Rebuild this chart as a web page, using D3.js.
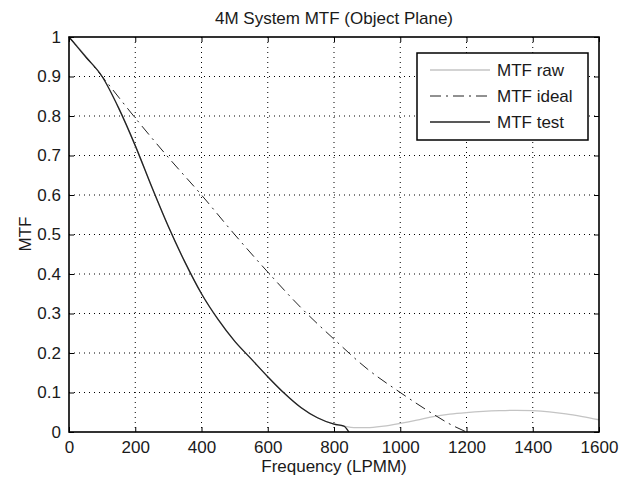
<!DOCTYPE html>
<html><head><meta charset="utf-8">
<script src="https://cdn.jsdelivr.net/npm/d3@7"></script>
<style>body{margin:0;background:#fff}text{font-family:"Liberation Sans",Arial,Helvetica,sans-serif;fill:#1a1a1a}</style>
</head><body><svg id="c" width="621" height="483"></svg>
<script>
const titleText = "4M System MTF (Object Plane)";
const xLabel = "Frequency (LPMM)";
const yLabel = "MTF";
const xTicks = [0,200,400,600,800,1000,1200,1400,1600];
const yTicks = [0,0.1,0.2,0.3,0.4,0.5,0.6,0.7,0.8,0.9,1];
const seriesNames = ["MTF raw","MTF ideal","MTF test"];

const rawFreq = [0,30,60,100,150,200,250,300,350,400,450,500,550,600,650,700,750,800,830,860,900,950,1000,1050,1100,1150,1200,1250,1300,1350,1400,1450,1500,1550,1600];
const rawMTF  = [1,0.972,0.942,0.9,0.82,0.725,0.62,0.52,0.43,0.35,0.285,0.23,0.185,0.14,0.098,0.062,0.036,0.02,0.015,0.011,0.011,0.015,0.022,0.03,0.039,0.045,0.049,0.052,0.054,0.055,0.054,0.051,0.046,0.039,0.031];

const idealFreq = [0,100,200,300,400,500,600,700,800,900,1000,1100,1150,1200];
const idealMTF  = [1,0.9,0.795,0.695,0.6,0.5,0.405,0.315,0.235,0.16,0.1,0.045,0.02,0];

const testFreq = [0,50,100,150,200,250,300,350,400,450,500,550,600,650,700,750,800,830,845];
const testMTF  = [1,0.95,0.9,0.82,0.725,0.62,0.52,0.43,0.35,0.285,0.23,0.185,0.14,0.098,0.062,0.036,0.02,0.015,0];

const L=69,R=599,T=37,B=432;
const svg=d3.select("#c");
const x=d3.scaleLinear().domain([0,1600]).range([L,R]);
const y=d3.scaleLinear().domain([0,1]).range([B,T]);

// grid
const g=svg.append("g");
g.selectAll(".gx").data(xTicks.slice(1,-1)).join("line")
 .attr("x1",d=>x(d)).attr("x2",d=>x(d)).attr("y1",T).attr("y2",B)
 .attr("stroke","#000").attr("stroke-width",1).attr("stroke-dasharray","1,4");
g.selectAll(".gy").data(yTicks.slice(1,-1)).join("line")
 .attr("y1",d=>y(d)).attr("y2",d=>y(d)).attr("x1",L).attr("x2",R)
 .attr("stroke","#000").attr("stroke-width",1).attr("stroke-dasharray","1,4");

const line=(xs,ys)=>d3.line().x((d,i)=>x(xs[i])).y((d,i)=>y(ys[i])).curve(d3.curveMonotoneX)(xs);

svg.append("path").attr("d",line(rawFreq,rawMTF)).attr("fill","none").attr("stroke","#c4c4c4").attr("stroke-width",1.3);
svg.append("path").attr("d",line(idealFreq,idealMTF)).attr("fill","none").attr("stroke","#222").attr("stroke-width",1).attr("stroke-dasharray","11,5,2,5");
svg.append("path").attr("d",line(testFreq,testMTF)).attr("fill","none").attr("stroke","#222").attr("stroke-width",1.3);

// axes with inward ticks
const fmt=d=>String(d);
svg.append("g").attr("transform",`translate(0,${B})`)
 .call(d3.axisBottom(x).tickValues(xTicks).tickSize(-5).tickPadding(9).tickFormat(fmt))
 .call(a=>{a.select(".domain").remove();a.selectAll("text").attr("font-size",17).attr("fill","#1a1a1a");});
svg.append("g").attr("transform",`translate(0,${T})`)
 .call(d3.axisTop(x).tickValues(xTicks).tickSize(-5).tickFormat(""))
 .call(a=>a.select(".domain").remove());
svg.append("g").attr("transform",`translate(${L},0)`)
 .call(d3.axisLeft(y).tickValues(yTicks).tickSize(-5).tickPadding(8).tickFormat(fmt))
 .call(a=>{a.select(".domain").remove();a.selectAll("text").attr("font-size",17).attr("fill","#1a1a1a");});
svg.append("g").attr("transform",`translate(${R},0)`)
 .call(d3.axisRight(y).tickValues(yTicks).tickSize(-5).tickFormat(""))
 .call(a=>a.select(".domain").remove());
svg.selectAll(".tick line").attr("stroke","#000");
svg.append("rect").attr("x",L).attr("y",T).attr("width",R-L).attr("height",B-T)
 .attr("fill","none").attr("stroke","#000").attr("stroke-width",1.6);

// labels
svg.append("text").attr("x",(L+R)/2).attr("y",24).attr("text-anchor","middle").attr("font-size",17).text(titleText);
svg.append("text").attr("x",(L+R)/2).attr("y",472).attr("text-anchor","middle").attr("font-size",17).text(xLabel);
svg.append("text").attr("transform","translate(31,234) rotate(-90)").attr("text-anchor","middle").attr("font-size",17).text(yLabel);

// legend
const lg=svg.append("g");
lg.append("rect").attr("x",417).attr("y",53).attr("width",171).attr("height",87)
 .attr("fill","#fff").attr("stroke","#000").attr("stroke-width",1.5);
const styles=[{c:"#c4c4c4",d:null,w:1.3},{c:"#222",d:"11,5,2,5",w:1},{c:"#222",d:null,w:1.3}];
seriesNames.forEach((n,i)=>{
  const yy=70+i*26;
  lg.append("line").attr("x1",430).attr("x2",490).attr("y1",yy).attr("y2",yy)
    .attr("stroke",styles[i].c).attr("stroke-width",styles[i].w).attr("stroke-dasharray",styles[i].d);
  lg.append("text").attr("x",497).attr("y",yy+6).attr("font-size",17).text(n);
});
</script></body></html>
